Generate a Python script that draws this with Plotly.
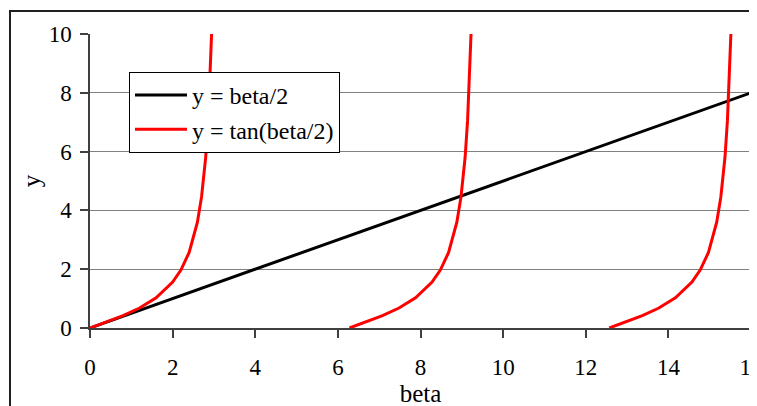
import plotly.graph_objects as go

# black line y = beta/2
line_beta = [0, 2, 4, 6, 8, 10, 12, 14, 16]
line_y = [0, 1, 2, 3, 4, 5, 6, 7, 8]

# red branches y = tan(beta/2)
tan_y = [0, 0.20, 0.42, 0.68, 1.03, 1.56, 1.97, 2.57, 3.60, 4.46, 5.80, 7.07, 8.24, 9.89, 10.6]
b1 = [0, 0.4, 0.8, 1.2, 1.6, 2.0, 2.2, 2.4, 2.6, 2.7, 2.8, 2.86, 2.9, 2.94, 2.96]
b2 = [6.28, 6.68, 7.08, 7.48, 7.88, 8.28, 8.48, 8.68, 8.88, 8.98, 9.08, 9.14, 9.18, 9.22, 9.24]
b3 = [12.57, 12.97, 13.37, 13.77, 14.17, 14.57, 14.77, 14.97, 15.17, 15.27, 15.37, 15.43, 15.47, 15.51, 15.53]

x_ticks = [0, 2, 4, 6, 8, 10, 12, 14, 16]
y_ticks = [0, 2, 4, 6, 8, 10]

FONT = "Liberation Serif"
fig = go.Figure()
fig.add_trace(go.Scatter(x=line_beta, y=line_y, mode="lines", name="y = beta/2",
                         line=dict(color="black", width=3)))
fig.add_trace(go.Scatter(x=b1, y=tan_y, mode="lines", name="y = tan(beta/2)",
                         line=dict(color="#ff0000", width=3), legendgroup="t"))
fig.add_trace(go.Scatter(x=b2, y=tan_y, mode="lines", showlegend=False,
                         line=dict(color="#ff0000", width=3), legendgroup="t"))
fig.add_trace(go.Scatter(x=b3, y=tan_y, mode="lines", showlegend=False,
                         line=dict(color="#ff0000", width=3), legendgroup="t"))

# page body has an 8px margin, so figure coordinates are screen coordinates - 8
OFF = 8
W, H = 757, 406
L, T = 90 - OFF, 34 - OFF
R = W - (751 - OFF)
B = H - (328 - OFF)
pw, ph = W - L - R, H - T - B
bottom = H - B


def px(sx):
    return (sx - OFF - L) / pw


def py(sy):
    return (bottom - (sy - OFF)) / ph


fig.update_layout(
    width=W, height=H,
    margin=dict(l=L, r=R, t=T, b=B, autoexpand=False),
    paper_bgcolor="white", plot_bgcolor="white",
    font=dict(family=FONT, size=23, color="black"),
    showlegend=True,
    legend=dict(x=px(129), y=py(72), xanchor="left", yanchor="top",
                bgcolor="white", bordercolor="black", borderwidth=1,
                itemwidth=52,
                font=dict(family=FONT, size=24), tracegroupgap=0),
    xaxis=dict(range=[0, 16], tickvals=x_ticks, showgrid=False, zeroline=False,
               showline=True, linecolor="#404040", linewidth=1.5,
               ticks="outside", ticklen=8, tickcolor="#404040", tickwidth=1.5,
               ticklabelstandoff=10,
               tickfont=dict(family=FONT, size=23),
               title=dict(text="beta", standoff=0, font=dict(family=FONT, size=25)),
               automargin=False, fixedrange=True),
    yaxis=dict(range=[0, 10], tickvals=y_ticks, showgrid=True, gridcolor="#808080", gridwidth=1.2,
               zeroline=False, showline=True, linecolor="#404040", linewidth=1.5,
               ticks="outside", ticklen=8, tickcolor="#404040", tickwidth=1.5,
               ticklabelstandoff=4,
               tickfont=dict(family=FONT, size=23),
               title=dict(text="y", standoff=1, font=dict(family=FONT, size=25)),
               automargin=False, fixedrange=True),
    shapes=[
        dict(type="line", xref="paper", yref="paper", x0=1, x1=1, y0=0, y1=1,
             line=dict(color="#808080", width=1.5), layer="below"),
        dict(type="rect", xref="paper", yref="paper",
             x0=px(10), x1=px(790), y0=py(440), y1=py(11),
             line=dict(color="#202020", width=2)),
    ],
)

fig.write_html("out.html")
